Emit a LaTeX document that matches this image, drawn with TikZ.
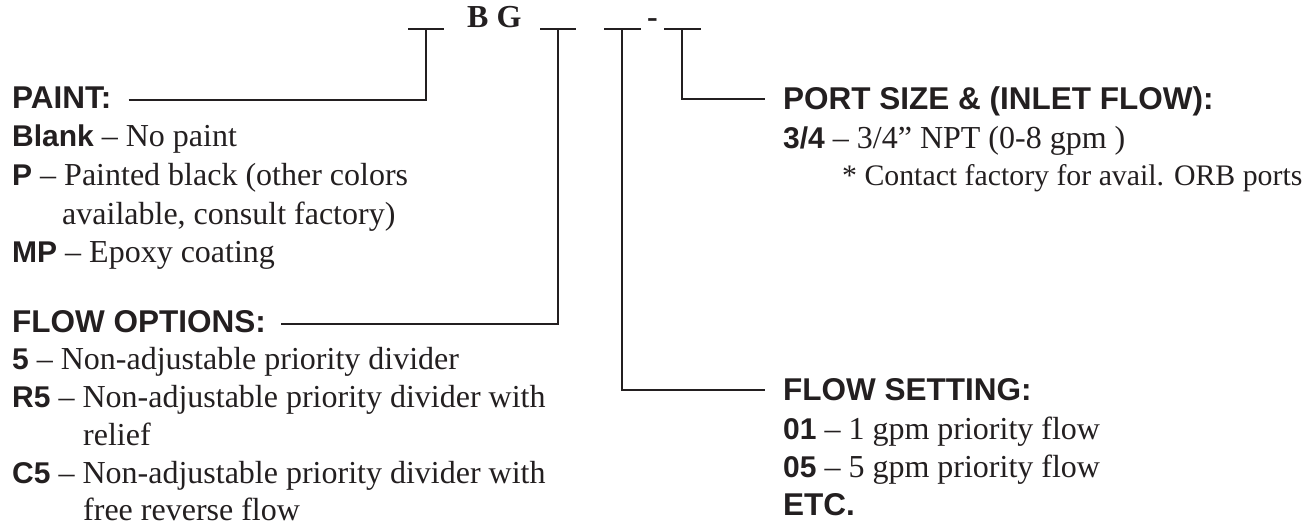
\documentclass[tikz,border=0pt]{standalone}
\usepackage{fontspec}
\setmainfont{Liberation Serif}
\setsansfont{Liberation Sans}
\definecolor{ink}{HTML}{231F20}
\tikzset{
  head/.style={anchor=base west, inner sep=0pt, text=ink, font=\sffamily\bfseries\fontsize{31.5}{36}\selectfont},
  body/.style={anchor=base west, inner sep=0pt, text=ink, font=\fontsize{32}{38}\selectfont},
  code/.style={anchor=base west, inner sep=0pt, text=ink, font=\bfseries\fontsize{32}{36}\selectfont},
  wire/.style={draw=ink, line width=2.2pt},
}
\newcommand\lab[1]{{\sffamily\bfseries\fontsize{30}{36}\selectfont #1}}
\begin{document}
\begin{tikzpicture}[x=1pt,y=-1pt]
\useasboundingbox (0,0) rectangle (1316,527);
% top code line
\node[code] (bg) at (467,28) {B G};
\node[code] (dash) at (647,28) {-};
\coordinate (t1) at (426,29);
\coordinate (t2) at (558,29);
\coordinate (t3) at (622,29);
\coordinate (t4) at (682,29);
\draw[wire] (408,29) -- (444,29);
\draw[wire] (540,29) -- (576,29);
\draw[wire] (604,29) -- (641,29);
\draw[wire] (664,29) -- (701,29);
% left column
\node[head] (paint) at (12,108) {PAINT:};
\node[body] (blank) at (12,146) {\lab{Blank} – No paint};
\node[body] (pb) at (12,185) {\lab{P} – Painted black (other colors};
\node[body] (pb2) at (62,224) {available, consult factory)};
\node[body] (mp) at (12,262) {\lab{MP} – Epoxy coating};
\node[head] (fo) at (12,332) {FLOW OPTIONS:};
\node[body] (o5) at (12,369) {\lab{5} – Non-adjustable priority divider};
\node[body] (r5) at (12,407) {\lab{R5} – Non-adjustable priority divider with};
\node[body] (r5b) at (83,445) {relief};
\node[body] (c5) at (12,483) {\lab{C5} – Non-adjustable priority divider with};
\node[body] (c5b) at (83,520) {free reverse flow};
% right column
\node[head] (port) at (783,109) {PORT SIZE \& (INLET FLOW):};
\node[body] (p34) at (783,148) {\lab{3/4} – 3/4” NPT (0-8 gpm )};
\node[body, font=\fontsize{29.8}{36}\selectfont] (orb) at (842,185) {* Contact factory for avail. ORB ports};
\node[head] (fs) at (783,400) {FLOW SETTING:};
\node[body] (f01) at (783,439) {\lab{01} – 1 gpm priority flow};
\node[body] (f05) at (783,477) {\lab{05} – 5 gpm priority flow};
\node[head] (etc) at (783,515) {ETC.};
% connectors
\draw[wire] ([xshift=17pt,yshift=8pt]paint.base east) -| (t1);
\draw[wire] ([xshift=15pt,yshift=8pt]fo.base east) -| (t2);
\draw[wire] (t3) |- ([xshift=-18pt,yshift=10pt]fs.base west);
\draw[wire] (t4) |- ([xshift=-18pt,yshift=10pt]port.base west);
\end{tikzpicture}
\end{document}
